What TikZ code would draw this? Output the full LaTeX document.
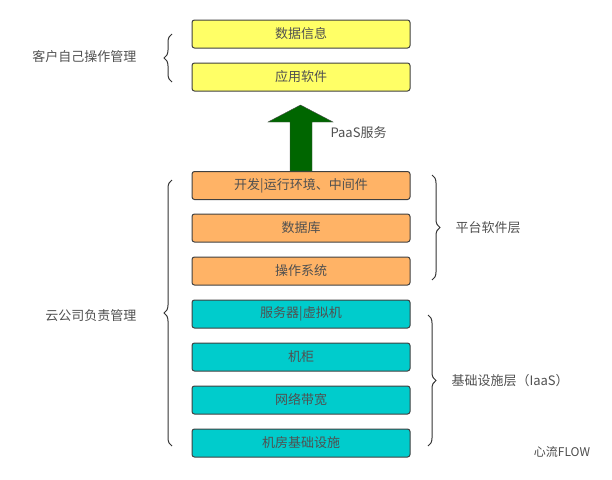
\documentclass[tikz,border=0pt]{standalone}
\usepackage{fontspec}
\setmainfont{Liberation Sans}
\newfontfamily\cjk{Noto Sans CJK SC}
\usetikzlibrary{decorations.pathreplacing}
\definecolor{yel}{HTML}{FFFF66}
\definecolor{ora}{HTML}{FFB366}
\definecolor{tea}{HTML}{00CCCC}
\definecolor{grn}{HTML}{006600}
\definecolor{txt}{HTML}{505050}
\begin{document}
\begin{tikzpicture}[x=1pt,y=-1pt,
 box/.style={draw=black!75,line width=1pt,rounded corners=2.5pt,minimum width=218pt,minimum height=28pt,font=\cjk\fontsize{13}{15}\selectfont,text=txt,anchor=center},
 lbl/.style={font=\cjk\fontsize{13}{15}\selectfont,text=txt},
 br/.style={draw=black!80,line width=1pt,decorate,decoration={brace,amplitude=8pt}}]
\useasboundingbox (0,0) rectangle (612,479);
\node[box,fill=yel] (b1) at (301,34) {数据信息};
\node[box,fill=yel] (b2) at (301,77) {应用软件};
\node[box,fill=ora] (b3) at (301,185.5) {开发|运行环境、中间件};
\node[box,fill=ora] (b4) at (301,228) {数据库};
\node[box,fill=ora] (b5) at (301,271) {操作系统};
\node[box,fill=tea] (b6) at (301,314) {服务器|虚拟机};
\node[box,fill=tea] (b7) at (301,357) {机柜};
\node[box,fill=tea] (b8) at (301,400) {网络带宽};
\node[box,fill=tea] (b9) at (301,443) {机房基础设施};
\fill[grn,draw=black!70] (290,171) -- (290,122) -- (268,122) -- (300.5,105) -- (333,122) -- (312,122) -- (312,171) -- cycle;
\node[lbl,anchor=west] (paas) at (327,133) {PaaS服务};
\coordinate (l1a) at (172,82); \coordinate (l1b) at (172,34);
\draw[br] (l1a) -- (l1b);
\node[lbl,anchor=east] (t1) at (140,57) {客户自己操作管理};
\coordinate (l2a) at (172,446); \coordinate (l2b) at (172,180);
\draw[br] (l2a) -- (l2b);
\node[lbl,anchor=east] (t2) at (140,316) {云公司负责管理};
\coordinate (r1a) at (432,175); \coordinate (r1b) at (432,280);
\draw[br] (r1a) -- (r1b);
\node[lbl,anchor=west] (t3) at (452,228) {平台软件层};
\coordinate (r2a) at (428,315); \coordinate (r2b) at (428,446);
\draw[br] (r2a) -- (r2b);
\node[lbl,anchor=west] (t4) at (448,381) {基础设施层（IaaS）};
\node[font=\cjk\fontsize{12}{14}\selectfont\itshape,text=black!70] (wm) at (562,452) {心流FLOW};
\end{tikzpicture}
\end{document}
